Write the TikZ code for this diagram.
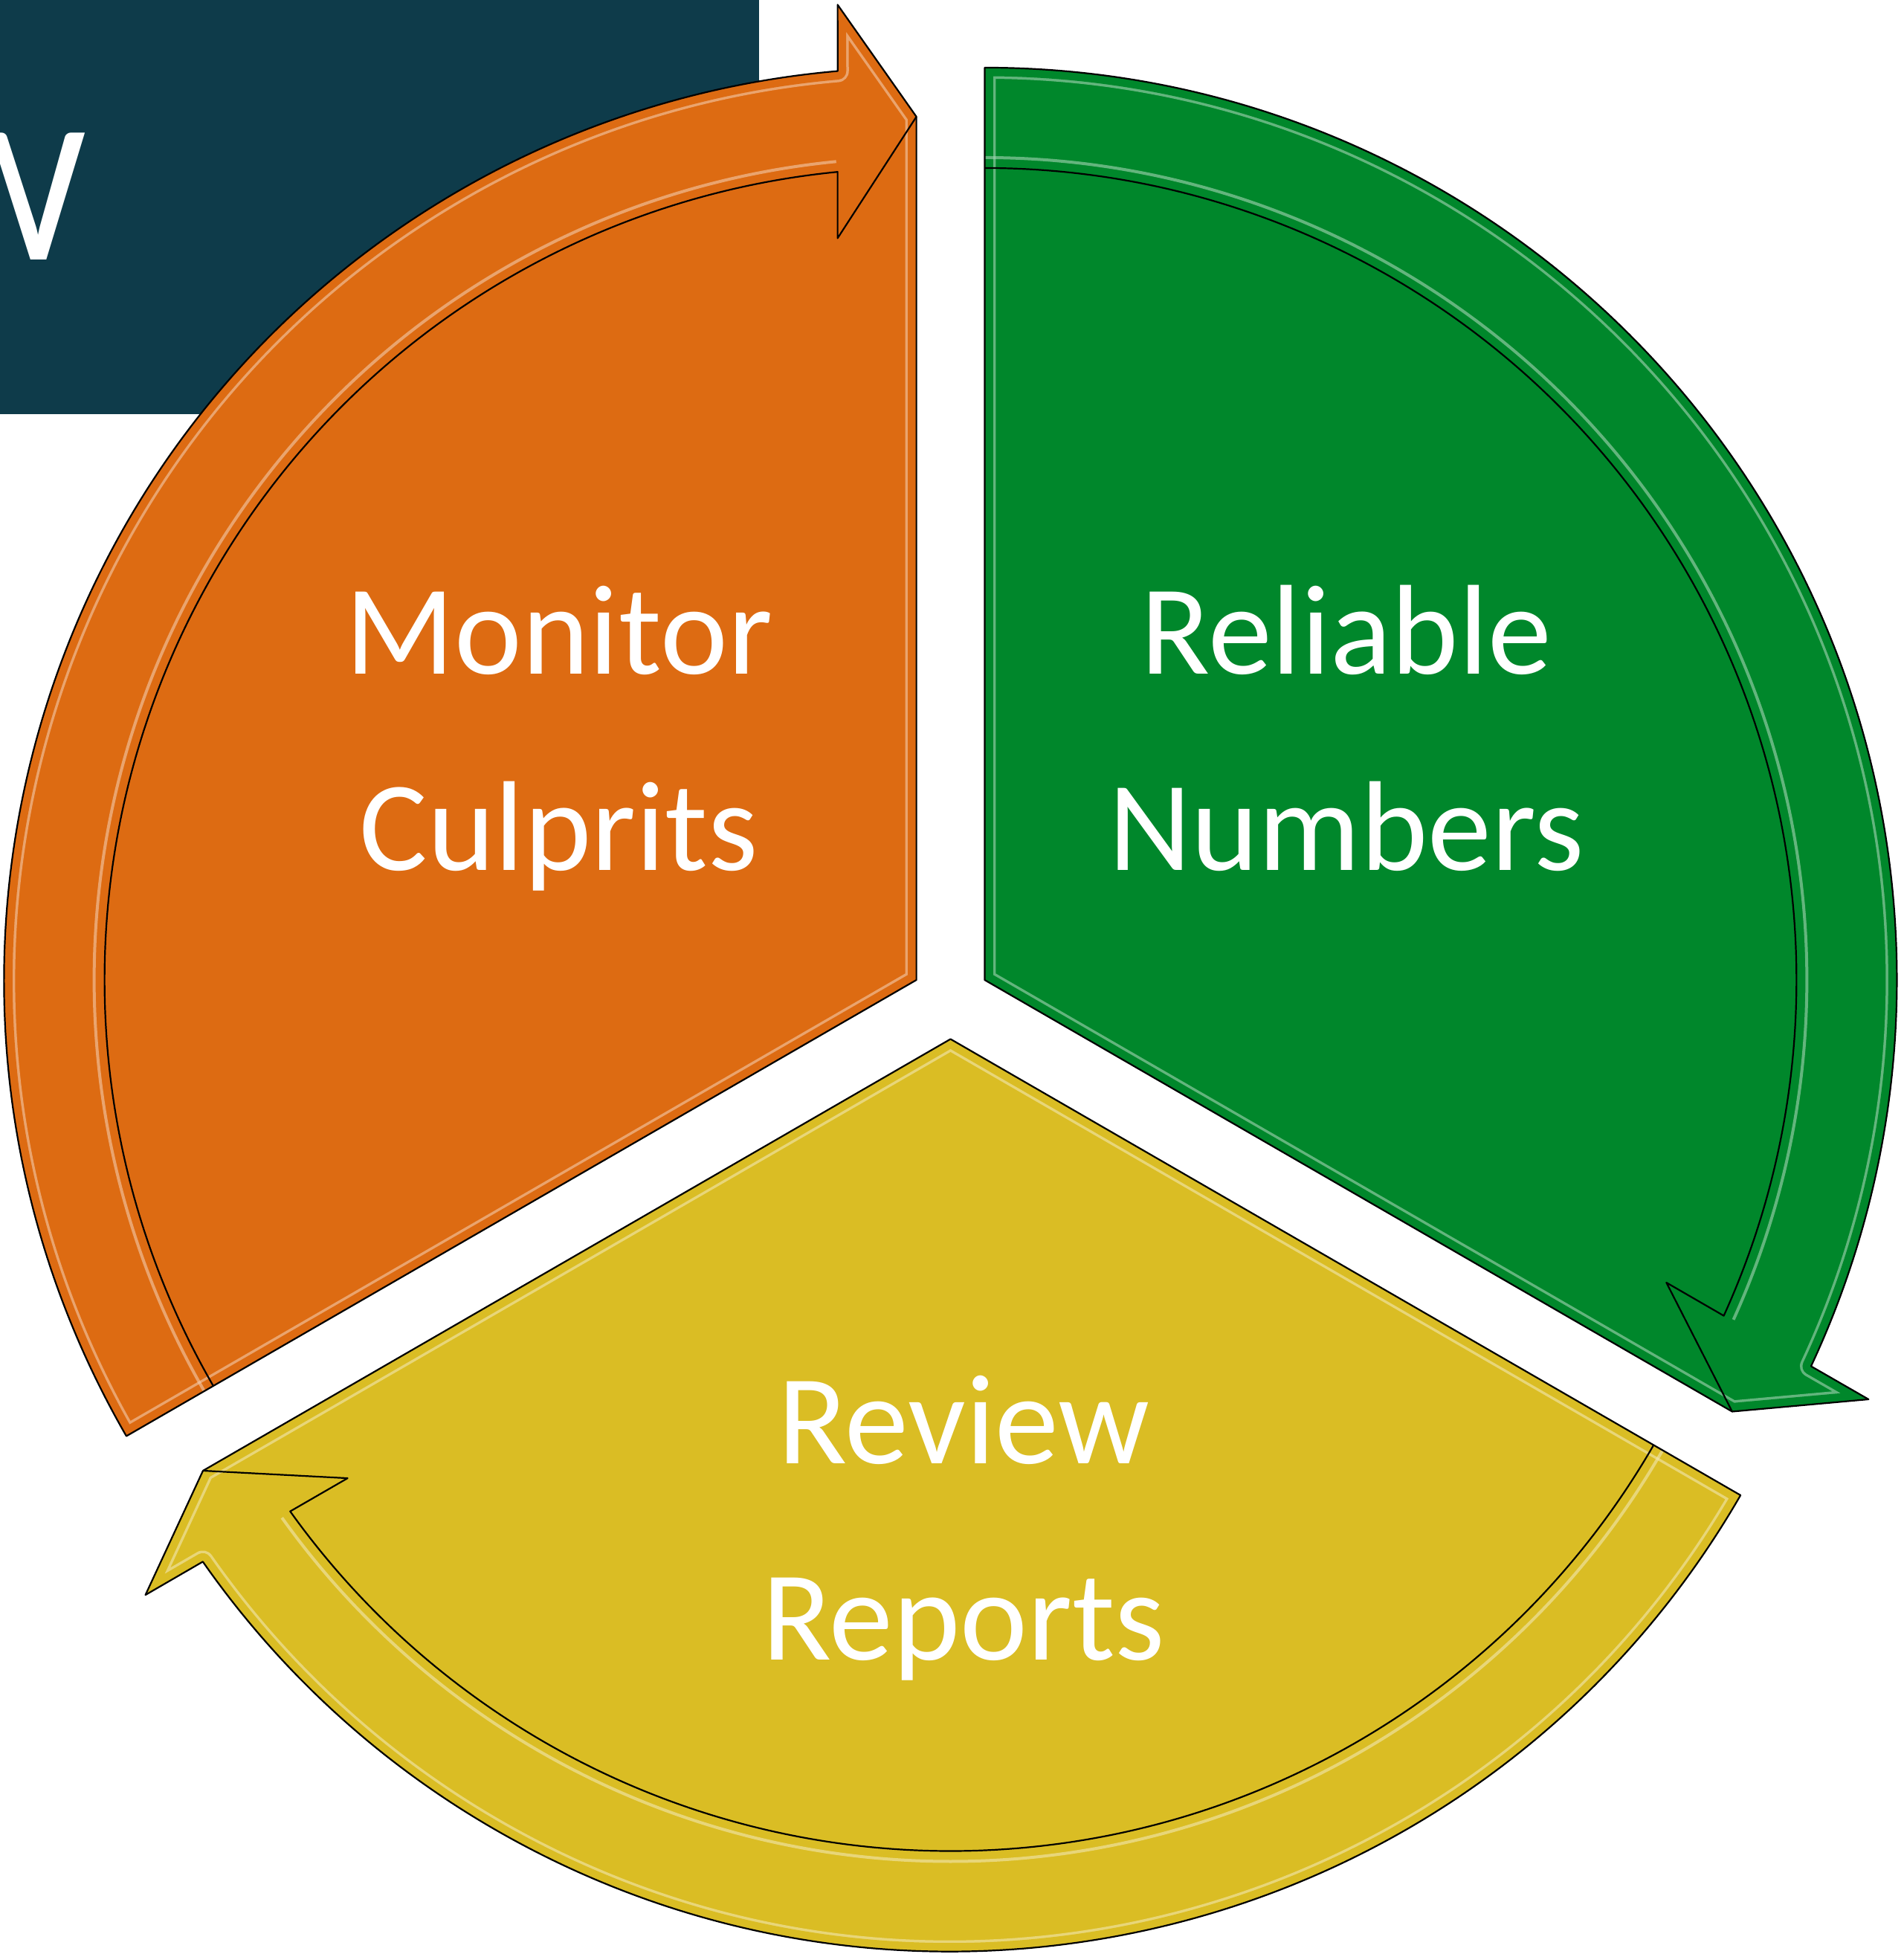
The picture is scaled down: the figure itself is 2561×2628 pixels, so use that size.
\documentclass[tikz,border=0pt]{standalone}
\usepackage{fontspec}
\setmainfont{Carlito}
\definecolor{segO}{RGB}{221,107,18}
\definecolor{segG}{RGB}{0,135,43}
\definecolor{segY}{RGB}{218,189,36}
\definecolor{titlebg}{RGB}{14,59,74}
\tikzset{
  edgeline/.style={draw=black, line width=2.2},
  label/.style={text=white, inner sep=0, anchor=base, font=\fontsize{172}{200}\selectfont}
}
% #1 rotation about the pie centre, #2 fill colour
\newcommand\cycseg[2]{%
\begin{scope}[shift={(1278.5,1283.5)}, rotate=#1, shift={(150:53)}]
  \fill[#2] (0,0) -- (210:1227) arc[start angle=210, end angle=94.95, radius=1227]
     -- (-106,1311.6) -- (0,1161) -- cycle;
  \begin{scope}
    \clip (0,0) -- (210:1227) arc[start angle=210, end angle=94.95, radius=1227]
     -- (-106,1311.6) -- (0,1161) -- cycle;
    \path[draw=#2!35!white, opacity=0.6, line width=30] (0,0) -- (210:1227) arc[start angle=210, end angle=94.95, radius=1227]
     -- (-106,1311.6) -- (0,1161) -- cycle;
    \path[draw=#2, line width=23] (0,0) -- (210:1227) arc[start angle=210, end angle=94.95, radius=1227]
     -- (-106,1311.6) -- (0,1161) -- cycle;
  \end{scope}
  \path[draw=#2!35!white, opacity=0.6, line width=4] (210:1106) arc[start angle=210, end angle=95.6, radius=1106];
  \path[edgeline] (0,0) -- (210:1227) arc[start angle=210, end angle=94.95, radius=1227]
     -- (-106,1311.6) -- (0,1161) -- cycle;
  \path[edgeline] (210:1092) arc[start angle=210, end angle=95.57, radius=1092]
     -- (-106,997.6) -- (0,1161);
\end{scope}}
\begin{document}
\begin{tikzpicture}[x=1pt, y=1pt, line join=round]
\useasboundingbox (0,0) rectangle (2561,2628);
\fill[white] (0,0) rectangle (2561,2628);
% title box (cut off at the left edge, as in the source slide)
\fill[titlebg] (0,2071) rectangle (1021,2628);
\begin{scope}
  \clip (0,2071) rectangle (1021,2628);
  \node[anchor=base east, inner sep=0, text=white, font=\fontsize{266}{266}\selectfont] (title) at (116,2278) {W};
\end{scope}
% three segments
\cycseg{0}{segO}
\cycseg{-120}{segG}
\cycseg{120}{segY}
% labels
\node[label] (mon) at (752,1721) {Monitor};
\node[label] (cul) at (752,1457) {Culprits};
\node[label] (rel) at (1811,1721) {Reliable};
\node[label] (num) at (1811,1457) {Numbers};
\node[label] (rev) at (1296,659) {Review};
\node[label] (rep) at (1296,395) {Reports};
\end{tikzpicture}
\end{document}
